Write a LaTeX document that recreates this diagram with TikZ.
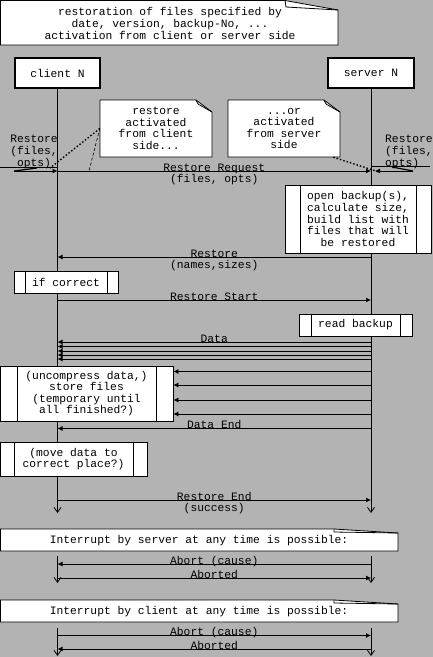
\documentclass[tikz,border=0pt]{standalone}
\usepackage{fontspec}
\setmonofont{Liberation Mono}
\usepackage{xcolor}
\usetikzlibrary{arrows.meta, calc}
\definecolor{bggray}{RGB}{179,179,179}

\begin{document}
\begin{tikzpicture}[
    x=1pt, y=-1pt,
    every node/.style={font=\ttfamily\fontsize{11.3}{11.6}\selectfont,
                       inner sep=0pt, align=center},
    inst/.style={draw, line width=1.6pt, fill=white,
                 minimum width=85pt, minimum height=30pt},
    act/.style={draw, line width=0.8pt, fill=white,
                path picture={\draw[line width=0.8pt]
                  ([xshift=#1]path picture bounding box.north west) --
                  ([xshift=#1]path picture bounding box.south west)
                  ([xshift=-#1]path picture bounding box.north east) --
                  ([xshift=-#1]path picture bounding box.south east);}},
    act/.default=12pt,
    notebox/.style={draw, line width=0.8pt, fill=white},
    note/.style={minimum width=112pt, minimum height=57pt},
    life/.style={line width=0.8pt},
    lifeend/.style={life, -{Straight Barb[length=5pt,width=7pt,line width=0.8pt]}},
    arr/.style={line width=0.8pt, -{Latex[length=5pt,width=5pt]}},
    lbl/.style={anchor=base},
    lbltwo/.style={anchor=base, yshift=-11.6pt},
    dots/.style={line width=1.4pt, dash pattern=on 1.5pt off 2pt},
    dashes/.style={line width=0.6pt, dash pattern=on 3pt off 2pt}
  ]
    \fill[bggray] (0,0) rectangle (433,657);
    \useasboundingbox (0,0) rectangle (433,657);

    % note outlines
    \draw[notebox] (0.5,0.5) -- (285,0.5) -- (338,10) -- (338,45) -- (0.5,45) -- cycle;
    \draw[line width=0.8pt] (285,0.5) -- (286,7) -- (338,10);
    \draw[notebox] (100,100) -- (196,100) -- (212,112) -- (212,157) -- (100,157) -- cycle;
    \draw[line width=0.8pt] (196,100) -- (198,104) -- (212,112);
    \draw[notebox] (228,100) -- (324,100) -- (340,112) -- (340,157) -- (228,157) -- cycle;
    \draw[line width=0.8pt] (324,100) -- (326,104) -- (340,112);
    \draw[notebox] (0.5,529) -- (334,529) -- (398,533) -- (398,551) -- (0.5,551) -- cycle;
    \draw[line width=0.8pt] (334,529) -- (334,532) -- (398,533);
    \draw[notebox] (0.5,600) -- (334,600) -- (398,604) -- (398,622) -- (0.5,622) -- cycle;
    \draw[line width=0.8pt] (334,600) -- (334,603) -- (398,604);

    \node (title) at (170,23.5)
      {restoration of files specified by\\date, version, backup-No, ...\\activation from client or server side};
    \node[note] (n1) at (156,128.5) {restore\\activated\\from client\\side...};
    \node[note] (n2) at (284,128.5) {...or\\activated\\from server\\side};
    \node (intsrv) at (199,540.5) {Interrupt by server at any time is possible:};
    \node (intcli) at (199,611.5) {Interrupt by client at any time is possible:};

    \node[inst] (cli) at (57.5,73) {client N};
    \node[inst, minimum width=86pt] (srv) at (371,73) {server N};

    \draw[lifeend] (cli.south) -- (cli |- 0,513);
    \draw[lifeend] (srv.south) -- (srv |- 0,513);
    \draw[lifeend] (cli |- 0,556) -- (cli |- 0,583);
    \draw[lifeend] (srv |- 0,556) -- (srv |- 0,583);
    \draw[lifeend] (cli |- 0,628) -- (cli |- 0,656);
    \draw[lifeend] (srv |- 0,628) -- (srv |- 0,656);

    \node[act=15pt, minimum width=146pt, minimum height=68pt] (open) at (358,219)
      {open backup(s),\\calculate size,\\build list with\\files that will\\be restored};
    \node[act=11pt, minimum width=104pt, minimum height=22pt] (ifok) at (66,282) {if correct};
    \node[act=12pt, minimum width=113pt, minimum height=22pt] (read) at (355.5,325) {read backup};
    \node[act=17pt, minimum width=173pt, minimum height=55pt] (store) at (86.5,393.5)
      {(uncompress data,)\\store files\\(temporary until\\all finished?)};
    \node[act=14pt, minimum width=147pt, minimum height=34pt] (move) at (73.5,459)
      {(move data to\\correct place?)};

    % gates of the restore request
    \coordinate (gl) at (0,167);
    \coordinate (gls) at (14,171);
    \coordinate (glt) at (37,168);
    \coordinate (gr) at (430,166);
    \coordinate (grs) at (413,171);
    \coordinate (grt) at (392,167);
    \draw[life] (gl) -- (cli |- gl);
    \draw[line width=1.2pt] (gls) -- (glt);
    \draw[arr] (gls) -- (cli |- gls);
    \draw[life] (srv |- gr) -- (gr);
    \draw[line width=1.2pt] (grt) -- (grs);
    \draw[arr] (grs) -- ([xshift=4pt]srv |- grs);
    \node (gatel) at (34,152) {Restore\\(files,\\opts)};
    \node[anchor=west, align=left] (gater) at (385,152) {Restore\\(files,\\opts)};

    \coordinate (d1) at (50,168);
    \coordinate (d2) at (89,171);
    \coordinate (d3) at (379,172);
    \draw[dots] (n1.west) -- (d1);
    \draw[dashes] (n1.west) -- (d2);
    \draw[dots] ([xshift=-7pt]n2.south east) -- (d3);

    \draw[arr] (cli |- 0,171) -- node[lbltwo] {Restore Request\\(files, opts)} (srv |- 0,171);
    \draw[arr] (srv |- 0,257) -- node[lbltwo] {Restore\\(names,sizes)} (cli |- 0,257);
    \draw[arr] (cli |- 0,300) -- node[lbl] {Restore Start} (srv |- 0,300);
    \draw[arr] (srv |- 0,342) -- node[lbl] {Data} (cli |- 0,342);
    \foreach \y in {346.5,351,355,359}
      \draw[arr] (srv |- 0,\y) -- (cli |- 0,\y);
    \foreach \y in {371.5,385,400,414}
      \draw[arr] (srv |- 0,\y) -- (store.east |- 0,\y);
    \draw[arr] (srv |- 0,428.5) -- node[lbl] {Data End} (cli |- 0,428.5);
    \draw[arr] (cli |- 0,500) -- node[lbltwo] {Restore End\\(success)} (srv |- 0,500);

    \draw[arr] (srv |- 0,564) -- node[lbl] {Abort (cause)} (cli |- 0,564);
    \draw[arr] (cli |- 0,578) -- node[lbl] {Aborted} (srv |- 0,578);
    \draw[arr] (cli |- 0,635.5) -- node[lbl] {Abort (cause)} (srv |- 0,635.5);
    \draw[arr] (srv |- 0,649) -- node[lbl] {Aborted} (cli |- 0,649);
  \end{tikzpicture}
\end{document}
